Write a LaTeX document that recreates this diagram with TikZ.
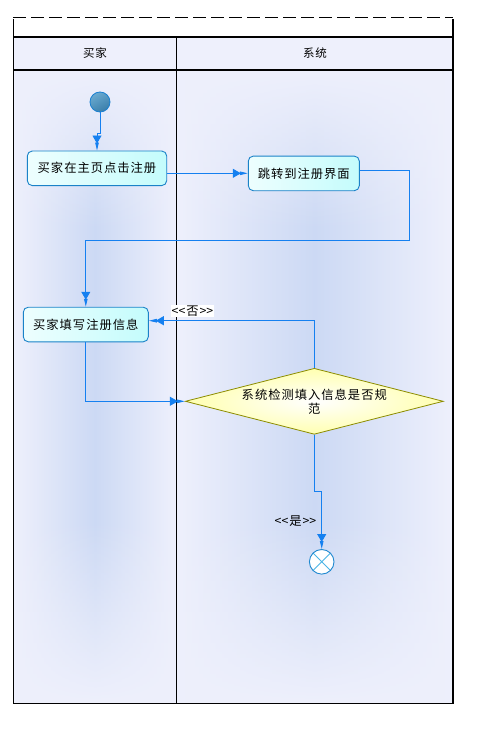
\documentclass[tikz,border=0pt]{standalone}
\usepackage{fontspec}
\newfontfamily\cjk{Noto Sans CJK SC}[LetterSpace=8]
\usetikzlibrary{arrows.meta,shapes.geometric,fadings}

\definecolor{laneBase}{HTML}{EEF0FC}
\definecolor{laneBlue}{HTML}{CCD9F4}
\definecolor{headFill}{HTML}{EEF0FC}
\definecolor{flowBlue}{HTML}{1580F0}
\definecolor{boxEdge}{HTML}{1A82C8}
\definecolor{boxCyan}{HTML}{C4FCFC}
\definecolor{diaEdge}{HTML}{8C8C00}
\definecolor{diaFill}{HTML}{FFFFB0}
\definecolor{startLight}{HTML}{6AAAD0}
\definecolor{startDark}{HTML}{3A7EAA}
\definecolor{startEdge}{HTML}{1A80D0}
\definecolor{endEdge}{HTML}{1E88D0}
\definecolor{endCross}{HTML}{4AB4E6}

\tikzfading[name=topfade, top color=transparent!0, bottom color=transparent!100]
\tikzfading[name=bottomfade, top color=transparent!100, bottom color=transparent!0]

\begin{document}
\begin{tikzpicture}[x=1pt,y=-1pt,
  frame/.style={line width=1.1pt, black},
  headtext/.style={font=\cjk\fontsize{11.5}{13}\selectfont, inner sep=0pt},
  actbox/.style={draw=boxEdge, line width=0.9pt, rounded corners=5pt,
    left color=white!70!boxCyan, right color=boxCyan,
    minimum height=34.6pt, inner sep=0pt,
    font=\cjk\fontsize{12.3}{14}\selectfont},
  decision/.style={diamond, draw=diaEdge, line width=0.8pt,
    shading=radial, inner color=white, outer color=diaFill,
    minimum width=258pt, minimum height=66pt, inner sep=0pt},
  startnode/.style={circle, draw=startEdge, line width=0.8pt,
    shading=axis, top color=startLight, bottom color=startDark, shading angle=30,
    minimum size=20pt, inner sep=0pt},
  endnode/.style={circle, draw=endEdge, line width=0.9pt, fill=white,
    minimum size=24.6pt, inner sep=0pt,
    path picture={
      \draw[endCross, line width=0.9pt]
        (path picture bounding box.north west) -- (path picture bounding box.south east)
        (path picture bounding box.north east) -- (path picture bounding box.south west);}},
  flow/.style={draw=flowBlue, line width=0.9pt,
    -{Triangle[length=8pt,width=9pt,sep=-1pt]Triangle[length=8pt,width=3.5pt]}},
  guard/.style={font=\cjk\fontsize{12.3}{14}\selectfont, inner sep=1pt}
]
\useasboundingbox (0,0) rectangle (485,730);

% swimlane bodies
\shade[left color=laneBase, right color=laneBase, middle color=laneBlue]
  (13.5,70) rectangle (176.3,703.5);
\shade[left color=laneBase, right color=laneBase, middle color=laneBlue]
  (176.3,70) rectangle (453,703.5);
\fill[laneBase, path fading=topfade] (13.5,70) rectangle (453,230);
\fill[laneBase, path fading=bottomfade] (13.5,520) rectangle (453,703.5);

% header row
\fill[headFill] (13.5,37) rectangle (453,70);

% dashed top edge
\draw[line width=0.9pt, black, dash pattern=on 13pt off 5pt] (13,17) -- (453,17);

% frame and lane dividers
\draw[frame] (13.5,19.5) -- (13.5,703.5) -- (453,703.5) -- (453,19.5);
\draw[frame] (13.5,37) -- (453,37);
\draw[frame] (13.5,70) -- (453,70);
\draw[frame] (176.3,37) -- (176.3,703.5);

\node[headtext] (laneBuyer) at (95,53.5) {买家};
\node[headtext] (laneSystem) at (315,53.5) {系统};

% activity nodes
\node[startnode] (start) at (100,102) {};
\node[actbox, minimum width=139.4pt] (click) at (97,168.3) {买家在主页点击注册};
\node[actbox, minimum width=111pt] (jump) at (303.8,173.4) {跳转到注册界面};
\node[actbox, minimum width=125pt] (fill) at (85.8,324.5) {买家填写注册信息};
\node[decision] (check) at (314.3,401.3) {};
\node[font=\cjk\fontsize{12.3}{14}\selectfont, align=center, inner sep=0pt]
  (checktext) at (check.center) {系统检测填入信息是否规\\范};
\node[endnode] (finish) at (321.7,561.8) {};

% connectors
\draw[flow] (start.south) -- ++(0,21) -| (click.north);
\draw[flow] (click.east |- 0,173.3) -- (jump.west |- 0,173.3);
\draw[flow] (jump.east |- 0,170.3) -| (409.3,240) -| (fill.north);
\draw[flow] (fill.south) |- (check.west);
\draw[flow] (check.north) |- (fill.east |- 0,320.7);
\draw[flow] (check.south) -- (314.3,491) -| (finish.north);

% guards
\node[guard, fill=white] (noGuard) at (192.5,311) {<\kern0pt<否>\kern0pt>};
\node[guard] (yesGuard) at (295.5,521) {<\kern0pt<是>\kern0pt>};
\end{tikzpicture}
\end{document}
